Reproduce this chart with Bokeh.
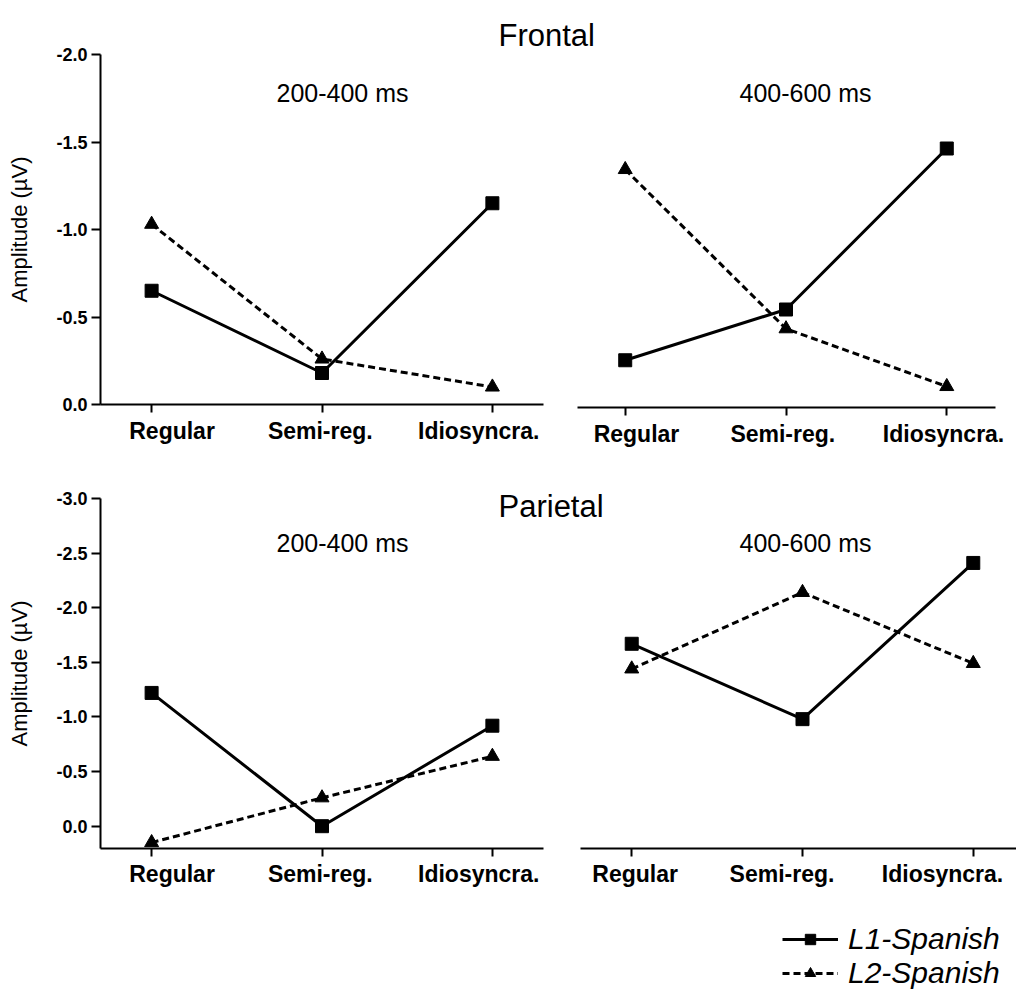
from bokeh.plotting import figure
from bokeh.models import (Range1d, LinearAxis, FixedTicker, PrintfTickFormatter,
                          Label, Legend, LegendItem, ColumnDataSource)
from bokeh.embed import file_html
from bokeh.resources import INLINE

# ---------------- data ----------------
categories = ["Regular", "Semi-reg.", "Idiosyncra."]
series_names = ["L1-Spanish", "L2-Spanish"]
region_titles = ["Frontal", "Parietal"]
window_titles = ["200-400 ms", "400-600 ms"]

frontal_200_400_l1 = [-0.65, -0.18, -1.15]
frontal_200_400_l2 = [-1.03, -0.26, -0.10]
frontal_400_600_l1 = [-0.27, -0.56, -1.48]
frontal_400_600_l2 = [-1.36, -0.45, -0.12]
parietal_200_400_l1 = [-1.22, 0.00, -0.92]
parietal_200_400_l2 = [0.15, -0.26, -0.64]
parietal_400_600_l1 = [-1.67, -0.98, -2.41]
parietal_400_600_l2 = [-1.44, -2.14, -1.49]

frontal_ticks = [0.0, -0.5, -1.0, -1.5, -2.0]
parietal_ticks = [0.0, -0.5, -1.0, -1.5, -2.0, -2.5, -3.0]

# ---------------- layout / style ----------------
W, H = 1016, 990
FONT = "Liberation Sans"
XLO, XHI = -0.3, 2.3


def x_range_for(c0, c1):
    k = (XHI - XLO) / (c1 - c0)
    s = XLO - c0 * k
    return Range1d(s, s + W * k)


def y_range_for(v0, py0, v1, py1):
    f0, f1 = 1 - py0 / H, 1 - py1 / H
    m = (f1 - f0) / (v1 - v0)
    s = v0 - f0 / m
    return Range1d(s, s + 1 / m)


p = figure(width=W, height=H, x_range=Range1d(0, W), y_range=Range1d(H, 0),
           x_axis_type=None, y_axis_type=None, toolbar_location=None,
           output_backend="svg", min_border=0, outline_line_color=None)
p.background_fill_color = "white"
p.border_fill_color = "white"

panels = [
    dict(key="fe", l1=frontal_200_400_l1, l2=frontal_200_400_l2, xpx=(100, 543),
         ymap=(0.0, 404, -2.0, 54), base=0.0, top=-2.0, ticks=frontal_ticks,
         offs=[0.12, -0.01, -0.08]),
    dict(key="fl", l1=frontal_400_600_l1, l2=frontal_400_600_l2, xpx=(576.5, 994.5),
         ymap=(0.0, 407, -2.0, 57), base=0.0, top=-2.0, ticks=None,
         offs=[0.07, -0.02, -0.02]),
    dict(key="pe", l1=parietal_200_400_l1, l2=parietal_200_400_l2, xpx=(100, 543),
         ymap=(0.0, 825.7, -3.0, 498), base=0.2, top=-3.0, ticks=parietal_ticks,
         offs=[0.12, -0.01, -0.08]),
    dict(key="pl", l1=parietal_400_600_l1, l2=parietal_400_600_l2, xpx=(580, 1024),
         ymap=(0.0, 825.7, -3.0, 498), base=0.2, top=-3.0, ticks=None,
         offs=[0.02, -0.12, -0.18]),
]

extra_x, extra_y = {}, {}
for pn in panels:
    extra_x[pn["key"]] = x_range_for(*pn["xpx"])
    extra_y[pn["key"]] = y_range_for(*pn["ymap"])
p.extra_x_ranges = extra_x
p.extra_y_ranges = extra_y

xs = list(range(len(categories)))
legend_renderers = None

for pn in panels:
    k = pn["key"]
    src = ColumnDataSource(dict(x=xs, l1=pn["l1"], l2=pn["l2"]))
    kw = dict(source=src, x_range_name=k, y_range_name=k)
    r1l = p.line("x", "l1", line_color="black", line_width=3, **kw)
    r2l = p.line("x", "l2", line_color="black", line_width=3, line_dash="7 4", **kw)
    r1s = p.scatter("x", "l1", marker="square", size=13, fill_color="black",
                    line_color="black", **kw)
    r2s = p.scatter("x", "l2", marker="triangle", size=14, fill_color="black",
                    line_color="black", **kw)
    if legend_renderers is None:
        legend_renderers = ([r1l, r1s], [r2l, r2s])

    # x axis: line and ticks
    xa = LinearAxis(x_range_name=k, y_range_name=k, fixed_location=pn["base"],
                    bounds=(XLO, XHI), ticker=FixedTicker(ticks=xs),
                    major_label_text_color=None, major_tick_in=0, major_tick_out=8,
                    minor_tick_in=0, minor_tick_out=0, axis_line_width=2,
                    major_tick_line_width=2, axis_line_color="black",
                    major_tick_line_color="black")
    p.add_layout(xa, "below")
    # category labels
    pos = [i + o for i, o in zip(xs, pn["offs"])]
    la = LinearAxis(x_range_name=k, y_range_name=k, fixed_location=pn["base"],
                    ticker=FixedTicker(ticks=pos),
                    major_label_overrides={v: c for v, c in zip(pos, categories)},
                    axis_line_color=None, major_tick_line_color=None,
                    major_tick_in=0, major_tick_out=0, minor_tick_in=0, minor_tick_out=0,
                    major_label_standoff=13, major_label_text_font=FONT,
                    major_label_text_font_style="bold", major_label_text_font_size="23px",
                    major_label_text_color="black")
    p.add_layout(la, "below")

    if pn["ticks"] is not None:
        ya = LinearAxis(x_range_name=k, y_range_name=k, fixed_location=XLO,
                        bounds=(min(pn["top"], pn["base"]), max(pn["top"], pn["base"])),
                        ticker=FixedTicker(ticks=pn["ticks"]),
                        formatter=PrintfTickFormatter(format="%.1f"),
                        axis_label="Amplitude (µV)", axis_label_text_font=FONT,
                        axis_label_text_font_style="normal", axis_label_text_font_size="22px",
                        axis_label_standoff=21, axis_label_text_color="black",
                        major_label_text_font=FONT, major_label_text_font_style="bold",
                        major_label_text_font_size="18px", major_label_text_color="black",
                        major_label_standoff=4, major_tick_in=0, major_tick_out=9,
                        minor_tick_in=0, minor_tick_out=0, axis_line_width=2,
                        major_tick_line_width=2, axis_line_color="black",
                        major_tick_line_color="black")
        p.add_layout(ya, "left")

# titles (screen-pixel positions in the default ranges)
for text, y in zip(region_titles, [35, 506]):
    p.add_layout(Label(x=498, y=y, text=text, text_font=FONT, text_font_size="31px",
                       text_align="left", text_baseline="alphabetic", text_color="black"))

for text, (x, y) in zip(window_titles * 2,
                        [(342, 92), (805, 92), (342, 542.5), (805, 542)]):
    p.add_layout(Label(x=x, y=y, text=text, text_font=FONT, text_font_size="25px",
                       text_align="center", text_baseline="alphabetic", text_color="black"))

legend = Legend(items=[LegendItem(label=series_names[0], renderers=legend_renderers[0]),
                       LegendItem(label=series_names[1], renderers=legend_renderers[1])],
                location=(782, 0), orientation="vertical", glyph_width=56,
                glyph_height=26, label_height=26, spacing=0, padding=0, margin=0,
                border_line_color=None, background_fill_alpha=0, label_text_font=FONT,
                label_text_font_style="italic", label_text_font_size="30px",
                label_standoff=10, label_text_color="black")
p.add_layout(legend)

open("out.html", "w").write(file_html(p, INLINE))
